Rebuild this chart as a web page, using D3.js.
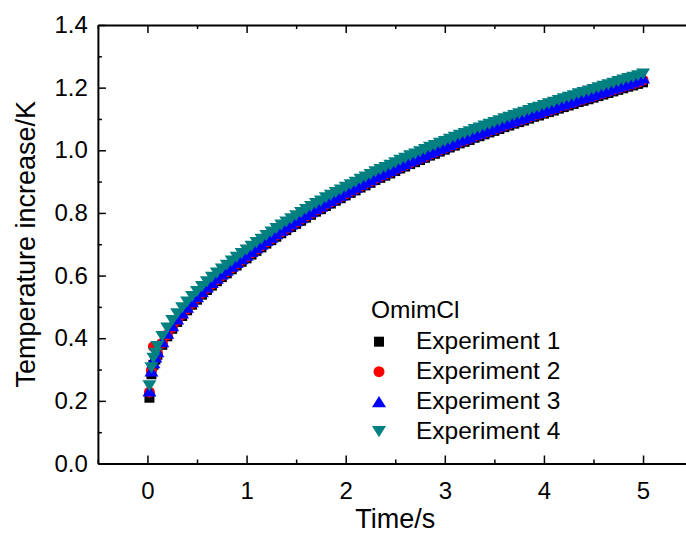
<!DOCTYPE html>
<html>
<head>
<meta charset="utf-8">
<script src="https://cdn.jsdelivr.net/npm/d3@7"></script>
<style>
  body { margin: 0; background: #fff; }
  svg { display: block; font-family: "Liberation Sans", Arial, sans-serif; }
</style>
</head>
<body>
<svg id="chart" width="686" height="535"></svg>
<script>
// sample times (s)
const times = [0.02, 0.04, 0.06, 0.08,
  0.10, 0.15, 0.20, 0.25, 0.30, 0.35, 0.40, 0.45, 0.50, 0.55,
  0.60, 0.65, 0.70, 0.75, 0.80, 0.85, 0.90, 0.95, 1.00, 1.05,
  1.10, 1.15, 1.20, 1.25, 1.30, 1.35, 1.40, 1.45, 1.50, 1.55,
  1.60, 1.65, 1.70, 1.75, 1.80, 1.85, 1.90, 1.95, 2.00, 2.05,
  2.10, 2.15, 2.20, 2.25, 2.30, 2.35, 2.40, 2.45, 2.50, 2.55,
  2.60, 2.65, 2.70, 2.75, 2.80, 2.85, 2.90, 2.95, 3.00, 3.05,
  3.10, 3.15, 3.20, 3.25, 3.30, 3.35, 3.40, 3.45, 3.50, 3.55,
  3.60, 3.65, 3.70, 3.75, 3.80, 3.85, 3.90, 3.95, 4.00, 4.05,
  4.10, 4.15, 4.20, 4.25, 4.30, 4.35, 4.40, 4.45, 4.50, 4.55,
  4.60, 4.65, 4.70, 4.75, 4.80, 4.85, 4.90, 4.95, 5.00];

// temperature increase (K)
const exp1 = [0.210, 0.285, 0.315, 0.332,
  0.347, 0.379, 0.406, 0.430, 0.452, 0.471, 0.489, 0.507, 0.523, 0.539,
  0.554, 0.568, 0.582, 0.595, 0.607, 0.620, 0.632, 0.644, 0.655, 0.667,
  0.679, 0.690, 0.702, 0.713, 0.724, 0.735, 0.745, 0.755, 0.765, 0.775,
  0.785, 0.794, 0.804, 0.812, 0.822, 0.830, 0.839, 0.847, 0.856, 0.864,
  0.872, 0.881, 0.888, 0.896, 0.905, 0.912, 0.919, 0.926, 0.934, 0.942,
  0.948, 0.956, 0.962, 0.969, 0.976, 0.983, 0.989, 0.996, 1.002, 1.009,
  1.015, 1.022, 1.027, 1.033, 1.040, 1.045, 1.051, 1.057, 1.062, 1.068,
  1.074, 1.079, 1.085, 1.090, 1.095, 1.101, 1.107, 1.111, 1.117, 1.122,
  1.127, 1.133, 1.138, 1.143, 1.148, 1.154, 1.158, 1.163, 1.168, 1.173,
  1.178, 1.183, 1.188, 1.193, 1.198, 1.203, 1.207, 1.212, 1.217];

const exp2 = [0.228, 0.298, 0.373, 0.338,
  0.352, 0.384, 0.411, 0.435, 0.457, 0.476, 0.494, 0.512, 0.528, 0.544,
  0.559, 0.573, 0.587, 0.600, 0.612, 0.625, 0.637, 0.649, 0.660, 0.672,
  0.684, 0.695, 0.707, 0.718, 0.729, 0.740, 0.750, 0.760, 0.770, 0.780,
  0.790, 0.799, 0.809, 0.817, 0.827, 0.835, 0.844, 0.852, 0.861, 0.869,
  0.877, 0.886, 0.893, 0.901, 0.910, 0.917, 0.924, 0.931, 0.939, 0.947,
  0.953, 0.961, 0.967, 0.974, 0.981, 0.988, 0.994, 1.001, 1.007, 1.014,
  1.020, 1.027, 1.032, 1.038, 1.045, 1.050, 1.056, 1.062, 1.067, 1.073,
  1.079, 1.084, 1.090, 1.095, 1.100, 1.106, 1.112, 1.116, 1.122, 1.127,
  1.132, 1.138, 1.143, 1.148, 1.153, 1.159, 1.163, 1.168, 1.173, 1.178,
  1.183, 1.188, 1.193, 1.198, 1.203, 1.208, 1.212, 1.217, 1.224];

const exp3 = [0.232, 0.296, 0.322, 0.340,
  0.357, 0.389, 0.416, 0.440, 0.462, 0.481, 0.499, 0.517, 0.533, 0.549,
  0.564, 0.578, 0.592, 0.605, 0.617, 0.630, 0.642, 0.654, 0.665, 0.677,
  0.689, 0.700, 0.712, 0.723, 0.734, 0.745, 0.755, 0.765, 0.775, 0.785,
  0.795, 0.804, 0.814, 0.822, 0.832, 0.840, 0.849, 0.857, 0.866, 0.874,
  0.882, 0.891, 0.898, 0.906, 0.915, 0.922, 0.929, 0.936, 0.944, 0.952,
  0.958, 0.966, 0.972, 0.979, 0.986, 0.993, 0.999, 1.006, 1.012, 1.019,
  1.025, 1.032, 1.037, 1.043, 1.050, 1.055, 1.061, 1.067, 1.072, 1.078,
  1.084, 1.089, 1.095, 1.100, 1.105, 1.111, 1.117, 1.121, 1.127, 1.132,
  1.137, 1.143, 1.148, 1.153, 1.158, 1.164, 1.168, 1.173, 1.178, 1.183,
  1.188, 1.193, 1.198, 1.203, 1.208, 1.213, 1.218, 1.224, 1.231];

const exp4 = [0.248, 0.305, 0.336, 0.352,
  0.373, 0.405, 0.432, 0.456, 0.478, 0.497, 0.515, 0.533, 0.549, 0.565,
  0.580, 0.594, 0.608, 0.621, 0.633, 0.646, 0.658, 0.670, 0.681, 0.693,
  0.705, 0.716, 0.728, 0.739, 0.750, 0.761, 0.771, 0.781, 0.791, 0.801,
  0.811, 0.820, 0.830, 0.838, 0.848, 0.856, 0.865, 0.873, 0.882, 0.890,
  0.898, 0.907, 0.914, 0.922, 0.931, 0.938, 0.945, 0.952, 0.960, 0.968,
  0.974, 0.982, 0.988, 0.995, 1.002, 1.009, 1.015, 1.022, 1.028, 1.035,
  1.041, 1.048, 1.053, 1.059, 1.066, 1.071, 1.077, 1.083, 1.088, 1.094,
  1.100, 1.105, 1.111, 1.116, 1.121, 1.127, 1.133, 1.137, 1.143, 1.148,
  1.153, 1.159, 1.164, 1.169, 1.174, 1.180, 1.184, 1.189, 1.194, 1.199,
  1.204, 1.209, 1.214, 1.219, 1.224, 1.229, 1.233, 1.238, 1.243];

const seriesNames = ['Experiment 1', 'Experiment 2', 'Experiment 3', 'Experiment 4'];
const seriesColors = ['#000000', '#ff0000', '#0000ff', '#008080'];
const xTicks = [0, 1, 2, 3, 4, 5];
const yTicks = [0.0, 0.2, 0.4, 0.6, 0.8, 1.0, 1.2, 1.4];
const legendTitle = 'OmimCl';

// custom marker shapes for d3.symbol
const squareSym = {
  draw(ctx, size) {
    const h = Math.sqrt(size) / 2;
    ctx.rect(-h, -h, h * 2, h * 2);
  },
};
const triUp = {
  draw(ctx, size) {
    const w = Math.sqrt(size);
    const h = w * 0.8;
    ctx.moveTo(0, -h / 2);
    ctx.lineTo(w / 2, h / 2);
    ctx.lineTo(-w / 2, h / 2);
    ctx.closePath();
  },
};
const triDown = {
  draw(ctx, size) {
    const w = Math.sqrt(size);
    const h = w * 0.8;
    ctx.moveTo(0, h / 2);
    ctx.lineTo(w / 2, -h / 2);
    ctx.lineTo(-w / 2, -h / 2);
    ctx.closePath();
  },
};
const shapes = [squareSym, d3.symbolCircle, triUp, triDown];
const sizes = [100, 95, 196, 196];

const svg = d3.select('#chart');
const margin = { left: 97.9, top: 25, bottom: 463.5 };
const x = d3.scaleLinear().domain([-0.5, 5.5]).range([97.9, 692.6]);
const y = d3.scaleLinear().domain([0, 1.4]).range([463.5, 25]);

svg.append('rect').attr('width', 686).attr('height', 535).attr('fill', '#fff');

// data
const allSeries = [exp1, exp2, exp3, exp4];
allSeries.forEach((vals, i) => {
  const sym = d3.symbol().type(shapes[i]).size(sizes[i]);
  svg.append('g')
    .selectAll('path')
    .data(times.map((t, j) => [t, vals[j]]))
    .enter()
    .append('path')
    .attr('d', sym)
    .attr('transform', d => `translate(${x(d[0])},${y(d[1])})`)
    .attr('fill', seriesColors[i]);
});

// axes
const minorX = d3.range(-0.5, 5.51, 0.5).filter(v => Math.abs(v % 1) > 0.01);
const minorY = d3.range(0.1, 1.4, 0.2);

function styleAxis(g) {
  g.select('.domain').attr('stroke-width', 2);
  g.selectAll('.tick line').attr('stroke-width', 1.5);
  g.selectAll('.tick text').attr('font-size', 24).attr('fill', '#000');
}

svg.append('g')
  .attr('transform', `translate(0,${y(0)})`)
  .call(d3.axisBottom(x).tickValues(xTicks).tickSizeInner(-8).tickSizeOuter(0).tickPadding(18).tickFormat(d3.format('d')))
  .call(styleAxis);
svg.append('g')
  .attr('transform', `translate(0,${y(0)})`)
  .call(d3.axisBottom(x).tickValues(minorX).tickSizeInner(-4).tickSizeOuter(0).tickFormat(''))
  .call(g => g.select('.domain').remove())
  .call(g => g.selectAll('.tick line').attr('stroke-width', 1.5));

svg.append('g')
  .attr('transform', `translate(0,${y(1.4)})`)
  .call(d3.axisTop(x).tickValues(xTicks).tickSizeInner(-8).tickSizeOuter(0).tickFormat(''))
  .call(styleAxis);
svg.append('g')
  .attr('transform', `translate(0,${y(1.4)})`)
  .call(d3.axisTop(x).tickValues(minorX).tickSizeInner(-4).tickSizeOuter(0).tickFormat(''))
  .call(g => g.select('.domain').remove())
  .call(g => g.selectAll('.tick line').attr('stroke-width', 1.5));

svg.append('g')
  .attr('transform', `translate(${x(-0.5)},0)`)
  .call(d3.axisLeft(y).tickValues(yTicks).tickSizeInner(-8).tickSizeOuter(0).tickPadding(10).tickFormat(d3.format('.1f')))
  .call(styleAxis);
svg.append('g')
  .attr('transform', `translate(${x(-0.5)},0)`)
  .call(d3.axisLeft(y).tickValues(minorY).tickSizeInner(-4).tickSizeOuter(0).tickFormat(''))
  .call(g => g.select('.domain').remove())
  .call(g => g.selectAll('.tick line').attr('stroke-width', 1.5));

// axis titles
svg.append('text')
  .attr('x', (x(-0.5) + x(5.5)) / 2)
  .attr('y', 528)
  .attr('text-anchor', 'middle')
  .attr('font-size', 27)
  .text('Time/s');

svg.append('text')
  .attr('transform', `translate(35,${(y(0) + y(1.4)) / 2}) rotate(-90)`)
  .attr('text-anchor', 'middle')
  .attr('font-size', 27)
  .text('Temperature increase/K');

// legend
const legend = svg.append('g').attr('font-size', 24.5);
legend.append('text').attr('x', 371).attr('y', 317.5).text(legendTitle);
seriesNames.forEach((name, i) => {
  const cy = 341.7 + i * 30;
  legend.append('path')
    .attr('d', d3.symbol().type(shapes[i]).size(sizes[i]))
    .attr('transform', `translate(379,${cy})`)
    .attr('fill', seriesColors[i]);
  legend.append('text')
    .attr('x', 416)
    .attr('y', cy + 7)
    .attr('dy', 0)
    .text(name);
});
</script>
</body>
</html>
